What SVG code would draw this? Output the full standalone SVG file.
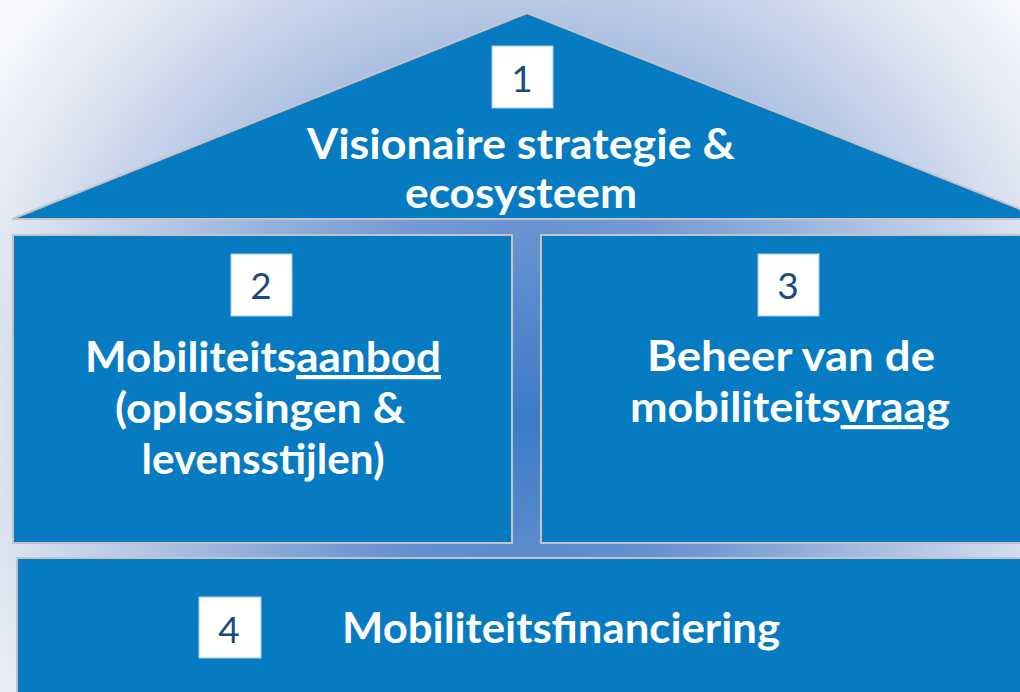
<svg xmlns="http://www.w3.org/2000/svg" width="1020" height="692" viewBox="0 0 1020 692">
  <defs>
    <radialGradient id="bg" gradientUnits="userSpaceOnUse" cx="527" cy="420" r="640">
      <stop offset="0" stop-color="#3a7cc8"/>
      <stop offset="0.3" stop-color="#6a93d0"/>
      <stop offset="0.6" stop-color="#adc0e2"/>
      <stop offset="0.85" stop-color="#dfe5f2"/>
      <stop offset="1" stop-color="#f6f8fb"/>
    </radialGradient>
    <style>
      .blk { fill: #067bc2; stroke: #c4c4c4; stroke-width: 2; }
      .num { fill: #ffffff; stroke: #a9cbe8; stroke-width: 1; }
      .numt { font-family: "Lato", "Liberation Sans", sans-serif; font-size: 37px; fill: #1b4a7e; text-anchor: middle; }
      .lbl { font-family: "Lato", "Liberation Sans", sans-serif; font-weight: bold; font-size: 42px; fill: #ffffff; text-anchor: middle; }
      .ul { text-decoration: underline; text-decoration-skip-ink: none; }
    </style>
  </defs>
  <rect x="0" y="0" width="1020" height="692" fill="url(#bg)"/>

  <g id="node1">
    <polygon class="blk" points="527,13 12,219 1045,219"/>
    <rect class="num" x="492" y="46" width="61" height="62"/>
    <text class="numt" x="522" y="92">1</text>
    <text class="lbl" x="521" y="159" textLength="428" lengthAdjust="spacingAndGlyphs">Visionaire strategie &amp;</text>
    <text class="lbl" x="521" y="208" textLength="232" lengthAdjust="spacingAndGlyphs">ecosysteem</text>
  </g>

  <g id="node2">
    <rect class="blk" x="13" y="235" width="499" height="308"/>
    <rect class="num" x="231" y="254" width="61" height="62"/>
    <text class="numt" x="261" y="299">2</text>
    <text class="lbl" x="263" y="372" textLength="356" lengthAdjust="spacingAndGlyphs">Mobiliteits<tspan class="ul">aanbod</tspan></text>
    <text class="lbl" x="260" y="423" textLength="290" lengthAdjust="spacingAndGlyphs">(oplossingen &amp;</text>
    <text class="lbl" x="263" y="474" textLength="243" lengthAdjust="spacingAndGlyphs">levensstijlen)</text>
  </g>

  <g id="node3">
    <rect class="blk" x="541" y="235" width="500" height="308"/>
    <rect class="num" x="758" y="254" width="61" height="62"/>
    <text class="numt" x="788" y="299">3</text>
    <text class="lbl" x="791" y="371" textLength="288" lengthAdjust="spacingAndGlyphs">Beheer van de</text>
    <text class="lbl" x="790" y="422" textLength="320" lengthAdjust="spacingAndGlyphs">mobiliteits<tspan class="ul">vraag</tspan></text>
  </g>

  <g id="node4">
    <rect class="blk" x="17" y="558" width="1020" height="150"/>
    <rect class="num" x="199" y="597" width="62" height="61"/>
    <text class="numt" x="229" y="643">4</text>
    <text class="lbl" x="561" y="643" textLength="438" lengthAdjust="spacingAndGlyphs">Mobiliteitsfinanciering</text>
  </g>

  <g id="connectors"></g>
</svg>
